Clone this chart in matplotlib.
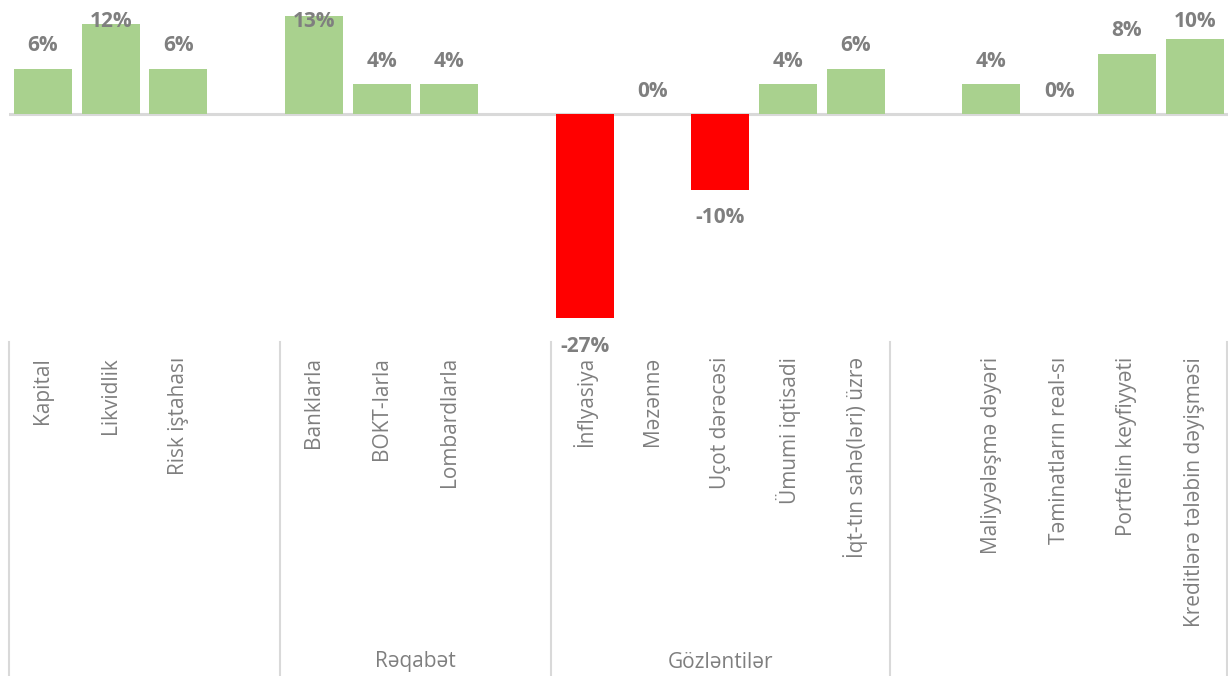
import matplotlib
matplotlib.use("Agg")
import matplotlib.pyplot as plt
from matplotlib.lines import Line2D

# kateqoriyalar (boş sətirlər qruplar arasındakı boşluqdur)
kateqoriyalar = ["Kapital", "Likvidlik", "Risk iştahası", "",
                 "Banklarla", "BOKT-larla", "Lombardlarla", "",
                 "İnflyasiya", "Məzənnə", "Uçot dərəcəsi", "Ümumi iqtisadi",
                 "İqt-tın sahə(ləri) üzrə",
                 "", "Maliyyələşmə dəyəri", "Təminatların real-sı",
                 "Portfelin keyfiyyəti", "Kreditlərə tələbin dəyişməsi"]
deyerler = [6, 12, 6, None,
            13, 4, 4, None,
            -27, 0, -10, 4, 6,
            None, 4, 0, 8, 10]
qruplar = ["", "Rəqabət", "Gözləntilər", ""]
qrup_olculeri = [4, 4, 5, 5]

yasil = "#a9d18e"
qirmizi = "#ff0000"
boz_xett = "#d9d9d9"
yazi = "#7f7f7f"

W, H = 1228, 676
fig = plt.figure(figsize=(W / 100, H / 100), dpi=100)

x0, x1 = 9 / W, 1228.5 / W
ytop, ybot = 1 / H, 341 / H
ax = fig.add_axes([x0, 1 - ybot, x1 - x0, ybot - ytop])
n = len(kateqoriyalar)
ax.set_xlim(0, n)
ax.set_ylim(-30, 15)
ax.axis("off")

for i, v in enumerate(deyerler):
    if v is None:
        continue
    reng = yasil if v >= 0 else qirmizi
    ax.bar(i + 0.5, v, width=0.855, color=reng, zorder=2)
    if v >= 0:
        y_lbl = min(v + 3.05, 12.3)
    else:
        y_lbl = v - 3.7
    ax.text(i + 0.5, y_lbl, f"{v}%", ha="center", va="center",
            fontsize=15, fontweight="bold", color=yazi,
            family="Open Sans", zorder=3, clip_on=False)

ax.axhline(0, color=boz_xett, lw=2.2, zorder=1)

# kateqoriya oxu: dik yazılar, qrup adları və ayırıcı xətlər
def fx(pos):
    return x0 + (x1 - x0) * pos / n

for i, ad in enumerate(kateqoriyalar):
    if ad:
        fig.text(fx(i + 0.5), 1 - 357 / H, ad, rotation=90, ha="center",
                 va="top", fontsize=15, color=yazi, family="Open Sans")

sinir = 0
fig.add_artist(Line2D([fx(0), fx(0)], [0, 1 - 342 / H], color=boz_xett, lw=1.5))
for ad, olcu in zip(qruplar, qrup_olculeri):
    orta = sinir + olcu / 2
    sinir += olcu
    if ad:
        fig.text(fx(orta), 1 - 662 / H, ad, ha="center", va="center",
                 fontsize=15, color=yazi, family="Open Sans")
    xs = min(fx(sinir), 1227 / W)
    fig.add_artist(Line2D([xs, xs], [0, 1 - 342 / H], color=boz_xett, lw=1.5))

fig.savefig("out.png", dpi=100, facecolor="white")
